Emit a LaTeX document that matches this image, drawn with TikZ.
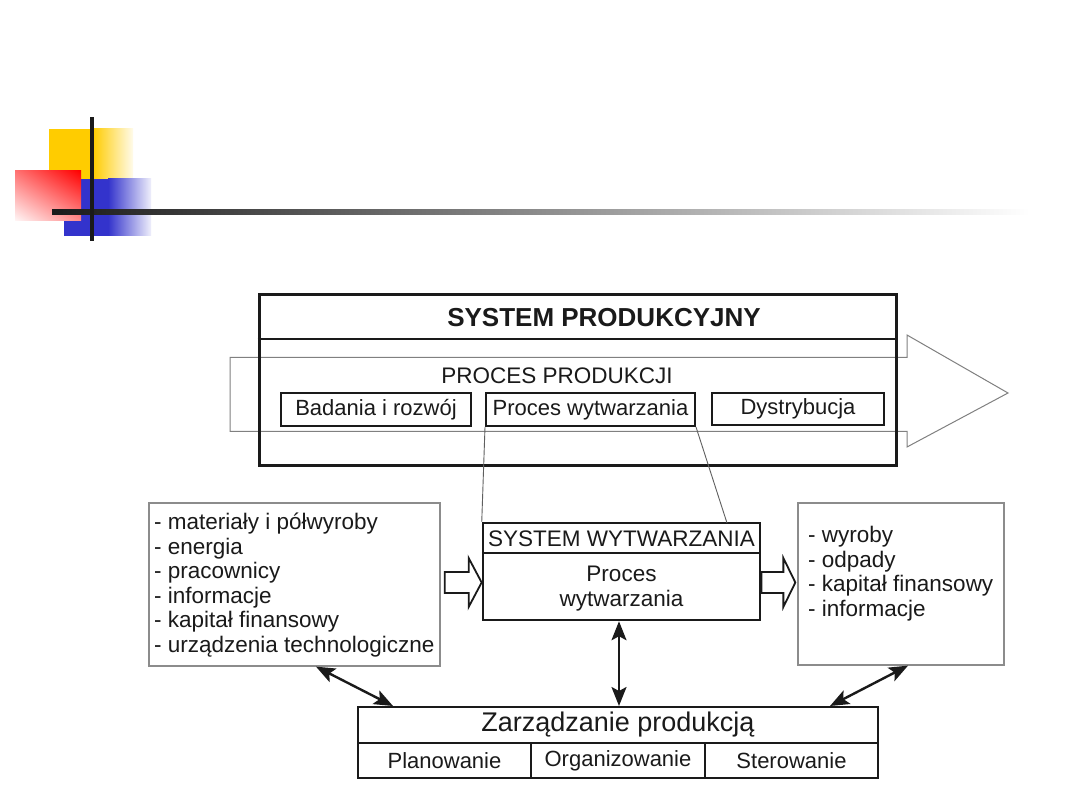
\documentclass[tikz,border=0pt]{standalone}
\usepackage{fontspec}
\setmainfont{Liberation Sans}
\usetikzlibrary{arrows.meta,shadings}
\definecolor{ink}{HTML}{1A1A1A}
\definecolor{yel}{HTML}{FFCC00}
\definecolor{blu}{HTML}{3333CC}
\definecolor{soft}{HTML}{8C8C8C}
\definecolor{arrowgray}{HTML}{808080}
\begin{document}
\begin{tikzpicture}[x=1pt,y=-1pt,
  txt/.style={text=ink, inner sep=0pt},
  f22/.style={font=\fontsize{22}{26}\selectfont},
  lbl/.style={txt, f22},
  subbox/.style={draw=ink, line width=2, inner sep=0pt, lbl, fill=white},
  sidebox/.style={draw=soft, line width=1.3, inner sep=0pt, fill=white},
  listtext/.style={txt, font=\fontsize{22.5}{24.6}\selectfont, align=left, anchor=base west},
  conn/.style={draw=ink!70, line width=0.9},
  hollow/.style={draw=ink, line width=1.8, fill=white, line join=miter},
  dbl/.style={{Stealth[length=19pt,width=15pt,inset=4pt]}-{Stealth[length=19pt,width=15pt,inset=4pt]}, line width=2.4, draw=ink}]
\useasboundingbox (0,0) rectangle (1080,810);
\fill[white] (0,0) rectangle (1080,810);

% --- title bar decoration ---
\fill[yel] (49,129) rectangle (93,179);
\shade[left color=yel, right color=yel!8] (93,129) rectangle (133,179);
\fill[blu] (64,179) rectangle (108,236);
\shade[left color=blu, right color=blu!8] (108,179) rectangle (151,236);
\shade[upper right=red, upper left=red!55, lower left=red!3, lower right=red!45] (15,171) rectangle (81,221);
\shade[left color=ink, right color=white] (52,210) rectangle (1030,215);
\fill[ink] (90,117) rectangle (94,241);

% --- big process arrow ---
\draw[draw=arrowgray, line width=1, line join=miter]
  (230,357.5) -- (907,357.5) -- (907,335) -- (1008,393) -- (907,447) -- (907,431.5) -- (230,431.5) -- cycle;

% --- system produkcyjny ---
\node[draw=ink, line width=3, minimum width=637, minimum height=171, inner sep=0pt] (sp) at (577.5,380.5) {};
\draw[draw=ink, line width=2.5] (sp.west |- 0,339) -- (sp.east |- 0,339);
\node[txt, font=\fontsize{26}{30}\selectfont\bfseries] (spt) at (604,317.5) {SYSTEM PRODUKCYJNY};
\node[lbl, font=\fontsize{22.5}{26}\selectfont] (pp) at (557,376) {PROCES PRODUKCJI};
\node[subbox, minimum width=190, minimum height=33] (br) at (376,409.5) {Badania i rozwój};
\node[subbox, minimum width=209, minimum height=33] (pw) at (590.5,409.5) {Proces wytwarzania};
\node[subbox, minimum width=172, minimum height=32] (ds) at (798,409) {Dystrybucja};

% --- system wytwarzania ---
\node[draw=ink, line width=2.5, minimum width=277, minimum height=97, inner sep=0pt, fill=white] (sw) at (621.5,571.5) {};
\draw[draw=ink, line width=2.5] (sw.west |- 0,553) -- (sw.east |- 0,553);
\node[lbl, font=\fontsize{22.5}{26}\selectfont] (swt) at (621.5,538.5) {SYSTEM WYTWARZANIA};
\node[lbl, font=\fontsize{22.5}{25}\selectfont, align=center] (swp) at (621.5,589) {Proces\\wytwarzania};
\coordinate (swr) at (727,523);
\draw[conn] (pw.south west) -- (sw.north west);
\draw[conn] (pw.south east) -- (swr);

% --- input / output boxes ---
\node[sidebox, minimum width=291, minimum height=163] (lb) at (294.5,584.5) {};
\node[listtext] (lbt) at (154,652.5) {- materiały i półwyroby\\- energia\\- pracownicy\\- informacje\\- kapitał finansowy\\- urządzenia technologiczne};
\node[sidebox, minimum width=206, minimum height=162] (rb) at (901,584) {};
\node[listtext, font=\fontsize{22.5}{24.5}\selectfont] (rbt) at (808,616) {- wyroby\\- odpady\\- kapitał finansowy\\- informacje};

% --- hollow flow arrows ---
\draw[hollow] (lb.east) ++(4,-12.5) -- ++(24,0) -- ++(0,-14) -- ++(13,24.5) -- ++(-13,24.5) -- ++(0,-14) -- ++(-24,0) -- cycle;
\draw[hollow] (rb.west) ++(-36,-12) -- ++(22,0) -- ++(0,-14) -- ++(12,24.5) -- ++(-12,24.5) -- ++(0,-14) -- ++(-22,0) -- cycle;

% --- zarzadzanie produkcja ---
\node[subbox, minimum width=520, minimum height=36, font=\fontsize{27}{30}\selectfont] (zp) at (618,725) {Zarządzanie produkcją};
\node[subbox, minimum width=173, minimum height=35] (pl) at (444.5,760.5) {Planowanie};
\node[subbox, minimum width=174, minimum height=35] (og) at (618,760.5) {Organizowanie};
\node[subbox, minimum width=173, minimum height=35] (st) at (791.5,760.5) {Sterowanie};

% --- double arrows ---
\draw[dbl] (lb.south -| 316,0) -- (zp.north -| 393,0);
\draw[dbl] (sw.south -| 619,0) -- (zp.north -| 619,0);
\draw[dbl] (rb.south -| 908,0) -- (zp.north -| 830,0);
\end{tikzpicture}
\end{document}
